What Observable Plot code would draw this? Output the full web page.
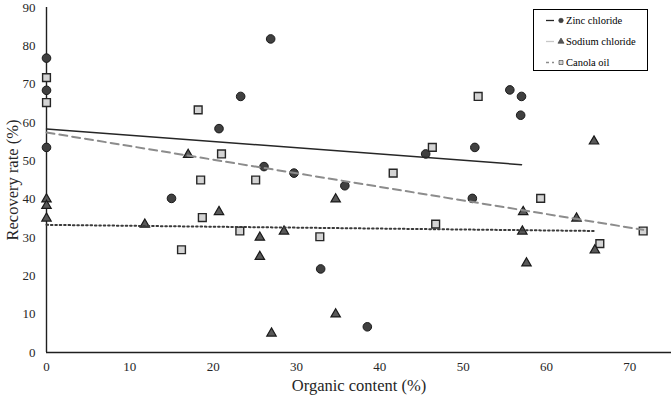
<!DOCTYPE html>
<html>
<head>
<meta charset="utf-8">
<script src="https://cdn.jsdelivr.net/npm/d3@7"></script>
<script src="https://cdn.jsdelivr.net/npm/@observablehq/plot@0.6"></script>
<style>
  body { margin: 0; background: #fff; }
  #chart { position: relative; width: 672px; height: 400px; font-family: 'Liberation Serif', 'Times New Roman', serif; }
  #chart svg, #chart svg text { font-family: 'Liberation Serif', 'Times New Roman', serif !important; }
  g[aria-label="x-axis label"] text, g[aria-label="y-axis label"] text { font-size: 16.5px; }
  #legend { position: absolute; left: 533px; top: 9px; }
</style>
</head>
<body>
<div id="chart"></div>
<script>
// Organic content (%) and recovery rate (%) per treatment
const zincX = [0, 0, 0, 15.0, 20.7, 23.3, 26.1, 26.9, 29.7, 32.9, 35.8, 38.5, 45.5, 51.1, 51.4, 55.6, 57.0, 56.9];
const zincY = [76.8, 68.4, 53.5, 40.2, 58.4, 66.8, 48.5, 81.8, 46.8, 21.8, 43.5, 6.7, 51.8, 40.2, 53.5, 68.5, 66.8, 61.9];

const sodiumX = [0, 0, 0, 11.8, 17.0, 20.7, 25.6, 25.6, 27.0, 28.5, 34.7, 34.7, 57.2, 57.1, 57.6, 63.6, 65.7, 65.8];
const sodiumY = [40.0, 38.3, 35.0, 33.4, 51.6, 36.7, 30.0, 25.0, 5.0, 31.6, 40.0, 10.0, 36.7, 31.6, 23.3, 35.0, 55.1, 26.7];

const canolaX = [0, 0, 16.2, 18.2, 18.5, 18.7, 21.0, 23.2, 25.1, 32.8, 41.6, 46.3, 46.7, 51.8, 59.3, 66.4, 71.6];
const canolaY = [71.7, 65.2, 26.8, 63.3, 45.0, 35.2, 51.8, 31.7, 45.0, 30.2, 46.8, 53.5, 33.5, 66.8, 40.2, 28.4, 31.7];

// Linear trend lines: value at x = 0, value at the end, end x
const seriesNames = ["Zinc chloride", "Sodium chloride", "Canola oil"];
const trendStartY = [58.3, 33.3, 57.4];
const trendEndY = [49.0, 31.7, 32.0];
const trendEndX = [57.0, 65.8, 71.6];

const xTicks = [0, 10, 20, 30, 40, 50, 60, 70];
const yTicks = [0, 10, 20, 30, 40, 50, 60, 70, 80, 90];

const toRows = (xs, ys) => xs.map((x, i) => ({x, y: ys[i]}));
const zinc = toRows(zincX, zincY);
const sodium = toRows(sodiumX, sodiumY);
const canola = toRows(canolaX, canolaY);
const trend = seriesNames.flatMap((name, i) => [
  {name, x: 0, y: trendStartY[i]},
  {name, x: trendEndX[i], y: trendEndY[i]}
]);
const trendOf = (name) => trend.filter(d => d.name === name);

const plot = Plot.plot({
  width: 672,
  height: 400,
  marginLeft: 46,
  marginRight: 1,
  marginTop: 7,
  marginBottom: 48,
  style: "font-family: 'Liberation Serif', 'Times New Roman', serif; font-size: 13px; color: #262626; background: #fff;",
  x: {domain: [0, 75]},
  y: {domain: [0, 90]},
  marks: [
    Plot.axisX({ticks: xTicks, tickSize: 0, tickPadding: 9, label: "Organic content (%)", labelAnchor: "center", labelArrow: "none", labelOffset: 38}),
    Plot.axisY({ticks: yTicks, tickSize: 0, tickPadding: 11, label: "Recovery rate (%)", labelAnchor: "center", labelArrow: "none", labelOffset: 40}),
    Plot.ruleY([0], {stroke: "#1f1f1f", strokeWidth: 1.4}),
    Plot.ruleX([0], {stroke: "#1f1f1f", strokeWidth: 1.4}),
    Plot.dot(zinc, {x: "x", y: "y", symbol: "circle", r: 4.3, fill: "#404040", stroke: "#1a1a1a", strokeWidth: 1}),
    Plot.dot(canola, {x: "x", y: "y", symbol: "square", r: 4.4, fill: "#d4d4d4", stroke: "#262626", strokeWidth: 1.4}),
    Plot.dot(sodium, {x: "x", y: "y", symbol: "triangle", r: 3.5, fill: "#595959", stroke: "#1a1a1a", strokeWidth: 1.2}),
    Plot.line(trendOf(seriesNames[0]), {x: "x", y: "y", stroke: "#262626", strokeWidth: 1.5}),
    Plot.line(trendOf(seriesNames[1]), {x: "x", y: "y", stroke: "#3a3a3a", strokeWidth: 2, strokeDasharray: "1.6,2.8"}),
    Plot.line(trendOf(seriesNames[2]), {x: "x", y: "y", stroke: "#8c8c8c", strokeWidth: 2, strokeDasharray: "8,5"})
  ]
});
document.getElementById("chart").appendChild(plot);

// Legend
const legendItems = [
  {name: seriesNames[0], line: "#262626", dash: null, symbol: d3.symbolCircle, fill: "#404040"},
  {name: seriesNames[1], line: "#c8c8c8", dash: null, symbol: d3.symbolTriangle, fill: "#595959"},
  {name: seriesNames[2], line: "#8c8c8c", dash: "3,3", symbol: d3.symbolSquare, fill: "#d4d4d4"}
];
const lg = d3.select("#chart").append("svg")
  .attr("id", "legend")
  .attr("width", 115).attr("height", 62);
lg.append("rect").attr("x", 0.5).attr("y", 0.5).attr("width", 114).attr("height", 61)
  .attr("fill", "#fff").attr("stroke", "#000").attr("stroke-width", 1);
legendItems.forEach((d, i) => {
  const cy = 11.5 + i * 21;
  lg.append("line").attr("x1", 13).attr("x2", 21).attr("y1", cy).attr("y2", cy)
    .attr("stroke", d.line).attr("stroke-width", 1.3).attr("stroke-dasharray", d.dash);
  lg.append("path").attr("d", d3.symbol(d.symbol, 16)()).attr("transform", `translate(28,${cy})`)
    .attr("fill", d.fill).attr("stroke", "#333").attr("stroke-width", 0.6);
  lg.append("text").attr("x", 33).attr("y", cy).attr("dy", "0.35em")
    .attr("font-size", 10.5).attr("fill", "#000").text(d.name);
});
</script>
</body>
</html>
